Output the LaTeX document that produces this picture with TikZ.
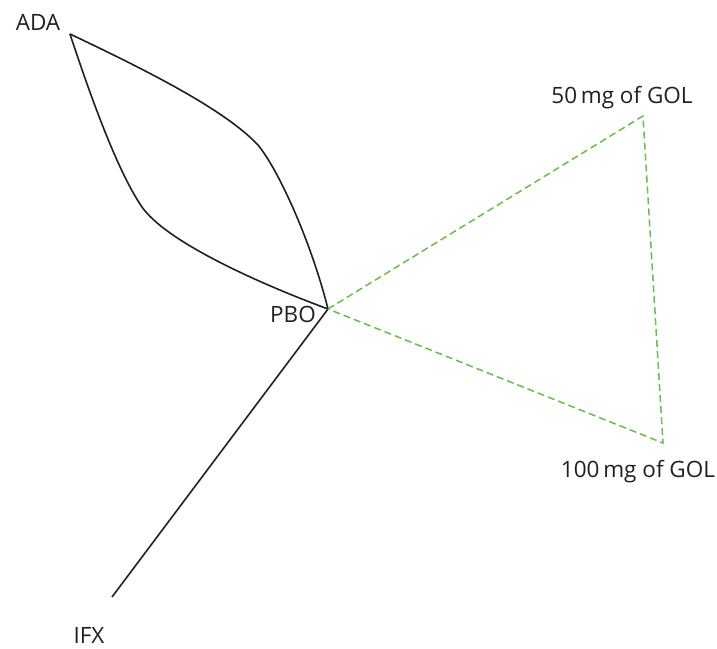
\documentclass[tikz,border=0pt]{standalone}
\usepackage{fontspec}
\setmainfont{Open Sans}
\definecolor{gol}{RGB}{104,190,72}
\definecolor{txt}{RGB}{35,31,32}
\begin{document}
\begin{tikzpicture}[x=1pt,y=-1pt,
  lbl/.style={font=\fontsize{22.5}{26}\selectfont, text=txt, inner sep=0pt, anchor=base},
  blk/.style={draw=txt, line width=1.6pt},
  grn/.style={draw=gol, line width=1.5pt, dash pattern=on 7pt off 4pt}]
\useasboundingbox (0,0) rectangle (717,648);
\coordinate (ada) at (70,34);
\coordinate (pbo) at (328,309);
\coordinate (g50) at (643,116);
\coordinate (g100) at (663,443);
\coordinate (ifx) at (112,597);
\coordinate (bendr) at (258,145);
\coordinate (bendl) at (142,207);
\node[lbl] (adal) at (38,30) {ADA};
\node[lbl] (pbol) at (293,322) {PBO};
\node[lbl] (g50l) at (622,103) {50\,mg of GOL};
\node[lbl] (g100l) at (638,477) {100\,mg of GOL};
\node[lbl] (ifxl) at (89,643) {IFX};
\draw[blk] (ada) .. controls (150,72) and (225,110) .. (bendr)
  .. controls (280,172) and (312,245) .. (pbo);
\draw[blk] (ada) .. controls (95,110) and (120,175) .. (bendl)
  .. controls (165,240) and (250,280) .. (pbo);
\draw[blk] (pbo) -- (ifx);
\draw[grn] (pbo) -- (g50) -- (g100) -- (pbo);
\end{tikzpicture}
\end{document}
